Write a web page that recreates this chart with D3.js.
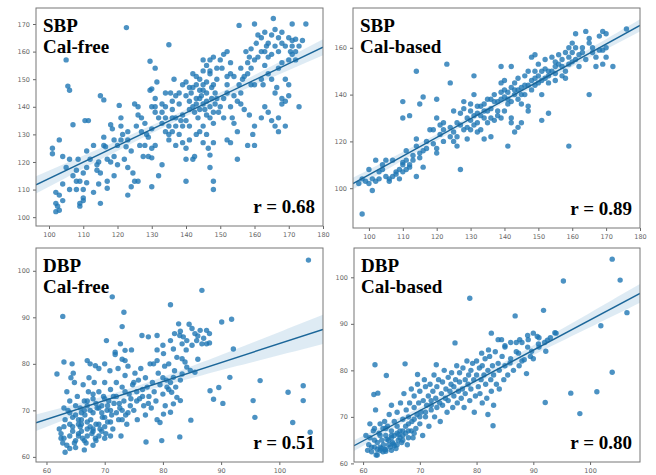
<!DOCTYPE html>
<html>
<head>
<meta charset="utf-8">
<script src="https://cdn.jsdelivr.net/npm/d3@7"></script>
<style>
  body { margin: 0; background: #fff; }
  .tick text { font-family: "DejaVu Sans", sans-serif; font-size: 6.5px; fill: #666; }
  .tick line { stroke: #666; }
  .domain { display: none; }
  .lbl { font-family: "Liberation Serif", "Times New Roman", serif; font-weight: bold; font-size: 19px; fill: #000; }
</style>
</head>
<body>
<div id="chart"></div>
<script>
// estimated values: [reference, estimate]
const sbpFree = [
  [101,125],[101,123],[102,109],[102,105],[102,102],[102.5,104],[103,128],[103,108],[104,122],[104,112],
  [105,157],[105.5,147.5],[106,146],[107,133.5],[108,113],[108,110],[109,105],[109,104],[110,107],[110,106],
  [111,112.5],[110,116],[111,124],[110.5,135],[111.5,135],[109,113],[110,110],[108.5,121],
  [113,126],[114,119],[114,117],[115,116],[114.5,112],[115,105],[114.5,120],[115,144],[116,142.5],[116,126],
  [116.5,125.5],[117,121],[117,110.5],[117,113],[118,133.5],[118.5,132],[119,122],[120,126],[120.5,140.5],
  [121,128],[121,136],[121,133],[121.5,130],
  [122,121],[123,108],[124,111],[125,113],[126,113],[124.5,116],[122.5,125.5],[124,124],[125,141],[126,140],
  [126,137],[125.5,133],[126.5,126],[128,126],[127.5,122],[128.5,130],[129,122],[130,140],[131,140],[131,126],
  [130,125],[130,121.5],[129.5,146],[130,146.5],[130,132],[129,129],[123,128],[127,131],[128,134],[122.6,168.7],
  [129.5,156.5],[131,154],[131.5,149],[130,111],[132,115],[133,119],[133,138],[134,140],[134,136],[135,133],
  [135,130],[136,131],[136,136],[135.5,145],[137,144],[136.5,150],[137,136],[137,126],[138,130],[138.5,135],
  [139,133],[139,127],[140,125],[140,113],[140,121],[141,128],[142,121],[142.5,122],[143,130],[132,136],
  [133,134],[136,139],[138,141],[139,137],[134,131],[137,133],[135,128],[133,141],[131,138],[135,162.5],
  [140,149],[141,147],[142,152],[141.5,145],[141,142],[142,140],[143,143],[142.5,138],[143.5,136],[144,146],
  [144.5,144],[145,141],[145,148],[145.5,139],[146,145],[146,149],[147,152],[147,153],[147.5,147],[147.5,143],
  [147,136],[148,134],[148,138],[148.5,141],[148.5,145],[149,150],[149.5,138],[146,130],[145,127],[146.5,125],
  [147,122.5],[148,127],[148,113],[148,110],[147,118],[145,133],[144,131],[143,148],[144,150],[145,153],
  [146,155],[140,144],[141,139],[143,141],[144,139],[146,142],[147,140],[145,146],[142,147],[148,148],
  [149,143],[140,135],[141,133],[144,143],[146,137],
  [150,157],[151,159],[150.5,154],[152,148],[152,145],[153,140],[153.5,136],[154,134],[152,128],[153,127],
  [155,142],[155.5,148],[156.5,150],[156,145],[157,151],[158,156],[157.5,160],[158.5,158],[159,161],[160,157],
  [158.5,137],[159.5,130],[160,133],[157,139],[158,126],[155,121],[155,131],[160,126],[159,148],[160,148],
  [151,143],[152,151],[154,144],[156,141],[153,152],[150,140],[151,136],
  [160.5,163],[161,166],[162,165],[163,160],[163.5,162],[164,158],[165,159],[166,162],[167,160],[168,163],
  [162,150],[162.5,148],[164,152],[165,150],[166,145],[166.5,147],[163,140],[162,136],[164,138],[165,135],
  [166,133],[167,136],[167,131],[168,141],[168,143],[169,133],[169,142],[170,144],[170,148],[169,150],
  [167,154],[168,156],[170,157],
  [170.5,160],[171,164],[172,164.5],[171,159],[172,157],[173,140],[175,170],[171,170],[165.5,172],[160,170],
  [163,167],[155.5,169.5],
  [158,152],[159,154],[161,158],[162,160],[163,155],[164,163],[165,166],[166,168],[167,165],[168,167],
  [169,162],[170,165],[171,162],[172,160],[173,162],[174,164],[156,154],[154,151],[153,156],[152,160],
  [149,154],[148,158],[147,157],[145,157],[143,151],[139,148],[138,145],[136,142],[134,145],[131,143],
  [127,136],[123,131],[119,128],[116,129],[112,121],[111,118],[107,115],[106,110],[104,106],[103,102.5],
  [113,109],[119,115],[120,119],[118,120],[123,118],[105,118],[106,121],[108,117]
];

const sbpCal = [
  [98,89],[99,103],[100,108],[101,99],[101,104],[102,103],[102,112],[103,107],[104,108],[104,110],
  [105,112],[106,104],[106,103],[107,112],[108,107],[108,106],[109,104],[109,108],[110,107],[110,110],
  [110,111],[111,112],[111,116],[112,110],[112,109],[113,112],[113,114],[114,118],[114,105],[114,121],
  [115,115],[115,113],[116,116],[116,109],[117,120],[117,117],[110,130],[110,137],[112,131],[114,150],
  [115,136],[116,139],[118,125],[119,125],[119,119],[120,117],[120,115],[120,138],[120,130],[121,127],
  [121,123],[122,120],[122,125],[122,128],[123,153],[124,126],[124,122],[124,145],[125,120],[125,124],
  [125,133],[126,128],[126,122],[126,118],[127,108],[127,132],[128,134],[128,137],[128,125],[129,130],
  [129,121],[130,129],[130,133],[130,125],[130,136],[131,148],[131,140],[131,131],[131,127],[132,132],
  [132,124],[132,128],[133,135],[133,131],[133,125],[134,130],[134,136],[134,121],[135,138],[135,133],
  [135,128],[136,130],[136,122],[137,129],[137,140],[138,133],[138,137],[138,131],[139,152],[139,145],
  [139,138],[139,130],[140,139],[140,142],[140,133],[140,146],[141,118],[141,136],[141,141],[142,143],
  [142,137],[142,130],[142,128],[142,152],[143,145],[143,140],[143,124],[144,147],[144,142],[144,138],
  [144,126],[145,128],[145,136],[145,143],[146,144],[146,140],[146,148],[147,135],[147,150],[147,133],
  [148,146],[148,142],[148,156],[149,157],[149,150],[149,144],[150,148],[150,145],[150,153],[151,129],
  [151,140],[151,150],[152,147],[152,155],[152,151],[153,132],[153,145],[153,148],[154,150],[154,156],
  [155,154],[155,152],[155,146],[156,157],[156,153],[157,148],[157,155],[158,147],[158,158],[158,150],
  [159,118],[159,160],[159,156],[160,154],[160,158],[160,162],[161,166],[161,160],[161,155],[162,157],
  [162,152],[163,160],[163,158],[164,167],[164,155],[165,140],[165,162],[165,164],[166,158],[166,160],
  [167,156],[167,152],[168,165],[168,159],[169,167],[169,159],[169,153],[170,166],[170,160],[170,156],
  [172,152],[176,168],[127,127],[129,126],[132,135],[134,133],[136,134],[137,137],[139,141],[141,138],
  [143,142],[145,140],[147,144],[149,147],[151,146],[153,150],[155,149],[157,152],[159,153],[136,138],
  [97,102],[98,104],[100,102],[103,104],[105,105],[107,105],[111,108]
];

const dbpFree = [
  [105,102.3],[71.3,94.4],[62.8,90.2],[73.3,91.1],[73,88],[81.3,92.7],[86.7,95.8],[91.8,89.6],[90.1,89],
  [92.1,83.2],[91.5,77.1],[88.1,74.2],[88.7,72.4],[90.3,71.5],[89.6,74.9],[95.5,72.1],[95.8,68.5],
  [96.7,76.4],[101.5,73.9],[102.3,67.4],[104.1,75.3],[104.1,72.1],[105.3,65.3],[82.9,64.3],[77.1,63.2],
  [84.8,67.9],
  [76.4,86.1],[77.5,85.8],[79,86.1],[81.3,85],[82.7,88.6],[82.9,86.1],[83.5,85.8],[84.1,85],[85,87.6],
  [85.8,85],[86.4,87.2],[87.5,87.2],[88,86.5],[87.5,84.3],[86.7,84.3],[83.3,84.3],[81.8,83.2],[80.1,82.2],
  [79,80.7],[78.4,80],[82.4,81.4],[83.3,81.1],[83.8,80.4],[84.1,79.3],[84.7,78.6],[85.5,78.2],[83.3,77.8],
  [81.8,77.1],[81.3,76],[80.7,75],[81.5,73.9],[82.4,72.8],[83,72.1],[81.8,71.4],[81.3,69.6],[80.1,69.2],
  [79.5,67.4],[80.4,71],
  [70.3,85],[71.8,82.5],[72.7,84.3],[73.5,82.9],[73.5,80.7],[63,80.4],[64.4,80],[67,80.7],[68.4,79.6],
  [61.8,77.8],
  [62.2,66],[62.5,64],[62.8,63],[63.2,61],[63.5,74],[63.7,70],[63.2,68],[64,67],[64,72],[64.5,65.5],
  [64.8,63],[64.2,77],[64.6,78],[64.8,76],[65,69],[65,71],[65.3,73],[65.5,67],[65.5,65],[65.8,66.5],
  [65.8,70.5],[66,68],[66.2,64],[66.3,75.5],[66.5,72],[66.6,69],[66.8,63],[67,66],[67,71],[67.2,74],
  [67.3,77],[67.5,80],[67.6,68],[67.8,65],[68,69.5],[68,72.5],[68.2,76],[68.4,64],[68.5,67],[68.7,70.5],
  [69,79],[69,74],[69.2,66],[69.5,71],[69.6,68.5],[69.8,73],[70,76],[70,80],[70.2,65],[70.4,70],
  [70.5,67.5],[70.7,72],[70.9,78.5],[71,74.5],[71.2,69],[71.4,66],[71.6,71.5],[71.8,82],[72,76],[72,73],
  [72.3,79],[72.4,68],[72.6,70.5],[72.8,64.5],[73,75],[73,81],[73.3,72],[73.5,77.5],[73.6,69],[73.8,67],
  [74,79.5],[74.2,73.5],[74.4,71],[74.6,83],[74.8,75.5],[75,70],[75.2,78],[75.5,74],[75.6,68],[75.8,76.5],
  [76,72.5],[76.2,79],[76.5,74.5],[76.7,71],[77,77],[77,69],[77.3,75],[77.6,73],[77.8,80],[78,70.5],
  [78.2,76],[78.5,74],[78.8,72],[79,68],[79.2,78],[79.5,75.5],[80,77],[80,73.5],[80.3,79.5],[80.6,76.5],
  [81,74.5],[81,80],[82,78.5],[82.2,75],[83,76.5],[79.8,63.5],[70,64],[68,62.5],[66.5,61.5],
  [63,66.5],[64,69.5],[65.5,68],[66.5,70],[67.5,70],[68.5,71.5],[69.5,69.5],[70.5,71],[71.5,73],[72.5,71.5],
  [73.5,74],[74.5,72.5],[75.5,72],[76.5,73],[77.5,71.5],[69,67],[67,67.5],[71,67.5],[73,70],[75,76],
  [62.5,65],[63,64],[63.5,62.5],[64,64.5],[64.5,66.5],[65,63.5],[65.5,64.5],[66,65.5],[66.5,63.5],[67,64.5],
  [67.5,66.5],[68,65.5],[68.5,63.5],[69,64.5],[69.5,65.5],[70,66.5],[71,64.5],[65,62],[64,61.8],[63,70.5],
  [64.5,68.5],[66,69.5],[67,72],[68,73.5],[69,70.5],[70,72.5],[71,70],[72,69.5],[73,68],[74,69.5],
  [66,67],[68,66],[70,68.5],
  [84,83],[85,84],[86,86],[83,87],[87,85.5],[88,84.5],[86,81],[82,86.5],[80,84],[79,83],[84.5,88.5],[85.5,86.5]
];

const dbpCal = [
  [103.9,103.9],[95.3,99.2],[105.3,99.4],[78.8,95.5],[86.8,91.7],[91.8,92.9],[106.5,92.4],[101.9,89.6],
  [103.9,79.6],[101.2,75.4],[96.6,75.1],[98.2,70.7],[92.1,73.1],[82.9,68.1],[88.8,79.3],[93.8,88.1],
  [90.7,87.3],[92.2,84.1],[90.9,85.7],[89.1,86.6],[87.6,86.6],[87.4,83.7],[88.4,82.3],[89.7,84.1],
  [85.9,81.6],[85,85.3],[83.8,86.6],[82.6,88],[84.4,86.6],[82.1,84.4],[80.9,83.7],[76.2,85.9],
  [62.1,81.2],[64.1,78.9],[67.4,81.4],[72.9,81.2],[69.6,79.1],[61.9,74.8],[62.6,75.1],
  [60.5,66],[61,64],[61.2,68.5],[61.5,63.5],[61.8,67],[62,65],[62.2,71.5],[62.5,63],[62.8,66.5],[63,68.5],
  [63,62.8],[63.3,65],[63.5,67.5],[63.6,64],[63.8,69],[64,66],[64,62.6],[64.3,68],[64.5,65],[64.6,70.5],
  [64.8,63.5],[65,67],[65,72.5],[65.2,64.5],[65.5,69],[65.5,66],[65.8,63.2],[66,68],[66,71],[66.2,65],
  [66.5,67],[66.6,73],[66.8,64.5],[67,69.5],[67,66],[67.2,75],[67.5,68],[67.6,71.5],[67.8,64],[68,70],
  [68,67],[68.2,73],[68.5,76],[68.6,69],[68.8,65.5],[69,72],[69,74.5],[69.3,67.5],[69.5,70.5],[69.6,77],
  [69.8,73],[70,68.5],[70,75.5],[70.2,71],[70.5,66],[70.6,73.5],[70.8,78],[71,70],[71,76.5],[71.2,72.5],
  [71.5,74.5],[71.6,68],[71.8,77],[72,71.5],[72,73.5],[72.3,75.5],[72.5,79],[72.6,70],[72.8,74],[73,76.5],
  [73,72],[73.3,78],[73.5,73],[73.6,69],[73.8,75],[74,77.5],[74,72.5],[74.3,80],[74.5,74],[74.6,76],
  [74.8,71],[75,78.5],[75,73.5],[75.3,75.5],[75.5,77],[75.6,79.5],[75.8,72],[76,74.5],[76,76.5],[76.3,78],
  [76.5,81],[76.6,73],[76.8,75.5],[77,77.5],[77,79.5],[77.3,74],[77.5,76],[77.6,80.5],[77.8,72],[78,78],
  [78,75],[78.3,82],[78.5,77],[78.6,79],[78.8,73.5],[79,80],[79,76],[79.3,81.5],[79.5,78],[79.6,71],
  [79.8,74.5],[80,79],[80,82],[80.3,76.5],[80.5,80.5],[80.6,75],[80.8,78],[81,81],[81,73],[81.3,79],
  [81.5,82.5],[81.6,77],[81.8,74],[82,80],[82,70.5],[82.3,83],[82.5,78],[82.6,75.5],[82.8,81],[83,79],
  [83,72.5],[83.3,84],[83.5,77],[83.8,81.5],[84,80],[84,76],[84.5,83],[84.8,78],[85,81],[85.5,79],
  [86,82.5],[86.5,80],[87,84],[87.5,81],[88,82],[89,85],[89.5,83],[90,82.5],[91,85],[92,86],[93,87],
  [62.3,61.8],[63.8,63],[65,65.5],[66,66.5],[67,67],[68,68.5],[69,69.5],[70,70],[71,71],[72,72.5],
  [61.5,62.5],[62,63.5],[62.5,64.5],[63,63.5],[63.5,62.5],[64,63],[64.5,64],[65,62.8],[65.5,63.8],[66,64],
  [66.5,65.5],[67,65],[67.5,66.5],[68,65.5],[68.5,67],[69,66.5],[60.8,62.8],[61.2,65.5],[62,67.5],[63,66],
  [64,67.5],[65,66],[62.5,61.8],[63.2,63.2],[64.2,65.2],[65.3,64.2],[66.3,66.2],
  [88,86],[90,88],[91,87],[92.5,86.5],[94,88],[89,87.5],[86,86],[85,85],[87,86]
];

const ticks100to180 = [100, 110, 120, 130, 140, 150, 160, 170, 180];
const ticks100to170 = [100, 110, 120, 130, 140, 150, 160, 170];
const ticksSbpCalY = [100, 120, 140, 160];
const ticks60to100 = [60, 70, 80, 90, 100];

const titles = [["SBP", "Cal-free"], ["SBP", "Cal-based"], ["DBP", "Cal-free"], ["DBP", "Cal-based"]];
const rLabels = ["r = 0.68", "r = 0.89", "r = 0.51", "r = 0.80"];

const W = 656, H = 475;
const blue = "#1f77b4";

const panels = [
  {data: sbpFree, xd: [96.2, 180], yd: [96.8, 175.8], xt: ticks100to180, yt: ticks100to170, x0: 36, y0: 8, w: 287, h: 218},
  {data: sbpCal, xd: [95.3, 180], yd: [83, 177], xt: ticks100to180, yt: ticksSbpCalY, x0: 353, y0: 8, w: 287, h: 220},
  {data: dbpFree, xd: [58.2, 107.5], yd: [58.9, 104.9], xt: ticks60to100, yt: ticks60to100, x0: 36, y0: 248, w: 287, h: 214},
  {data: dbpCal, xd: [58.4, 108.8], yd: [60.3, 106.3], xt: ticks60to100, yt: ticks60to100, x0: 354, y0: 248, w: 286, h: 214}
];

const svg = d3.select("#chart").append("svg")
  .attr("width", W)
  .attr("height", H);

panels.forEach(function (p, i) {
  const x = d3.scaleLinear().domain(p.xd).range([0, p.w]);
  const y = d3.scaleLinear().domain(p.yd).range([p.h, 0]);

  const g = svg.append("g").attr("transform", "translate(" + p.x0 + "," + p.y0 + ")");

  g.append("clipPath").attr("id", "clip" + i)
    .append("rect").attr("width", p.w).attr("height", p.h);

  // least squares fit + 95% band
  const n = p.data.length;
  const mx = d3.mean(p.data, d => d[0]);
  const my = d3.mean(p.data, d => d[1]);
  const sxx = d3.sum(p.data, d => (d[0] - mx) * (d[0] - mx));
  const sxy = d3.sum(p.data, d => (d[0] - mx) * (d[1] - my));
  const b = sxy / sxx, a = my - b * mx;
  const s = Math.sqrt(d3.sum(p.data, d => Math.pow(d[1] - (a + b * d[0]), 2)) / (n - 2));
  const grid = d3.range(0, 51).map(k => p.xd[0] + (p.xd[1] - p.xd[0]) * k / 50);
  const band = grid.map(function (xv) {
    const e = 1.97 * s * Math.sqrt(1 / n + (xv - mx) * (xv - mx) / sxx);
    return {x: xv, lo: a + b * xv - e, hi: a + b * xv + e};
  });

  const plot = g.append("g").attr("clip-path", "url(#clip" + i + ")");

  plot.selectAll(".dot")
    .data(p.data)
    .enter().append("circle")
    .attr("class", "dot")
    .attr("cx", d => x(d[0]))
    .attr("cy", d => y(d[1]))
    .attr("r", 2.7)
    .style("fill", blue)
    .style("fill-opacity", 0.8);

  plot.append("path")
    .datum(band)
    .attr("d", d3.area().x(d => x(d.x)).y0(d => y(d.lo)).y1(d => y(d.hi)))
    .style("fill", blue)
    .style("fill-opacity", 0.15);

  plot.append("line")
    .attr("x1", x(p.xd[0])).attr("y1", y(a + b * p.xd[0]))
    .attr("x2", x(p.xd[1])).attr("y2", y(a + b * p.xd[1]))
    .style("stroke", "#1b6699")
    .style("stroke-width", 1.4);

  // axes
  g.append("g").attr("transform", "translate(0," + p.h + ")")
    .call(d3.axisBottom(x).tickValues(p.xt).tickSize(3).tickPadding(3));
  g.append("g")
    .call(d3.axisLeft(y).tickValues(p.yt).tickSize(3).tickPadding(3));

  g.append("rect")
    .attr("width", p.w).attr("height", p.h)
    .style("fill", "none")
    .style("stroke", "#777")
    .style("stroke-width", 1);

  // labels
  g.append("text").attr("class", "lbl").attr("x", 7).attr("y", 24).text(titles[i][0]);
  g.append("text").attr("class", "lbl").attr("x", 7).attr("y", 45).text(titles[i][1]);
  g.append("text").attr("class", "lbl")
    .attr("x", p.w - 8).attr("y", p.h - 13)
    .attr("text-anchor", "end")
    .text(rLabels[i]);
});
</script>
</body>
</html>
